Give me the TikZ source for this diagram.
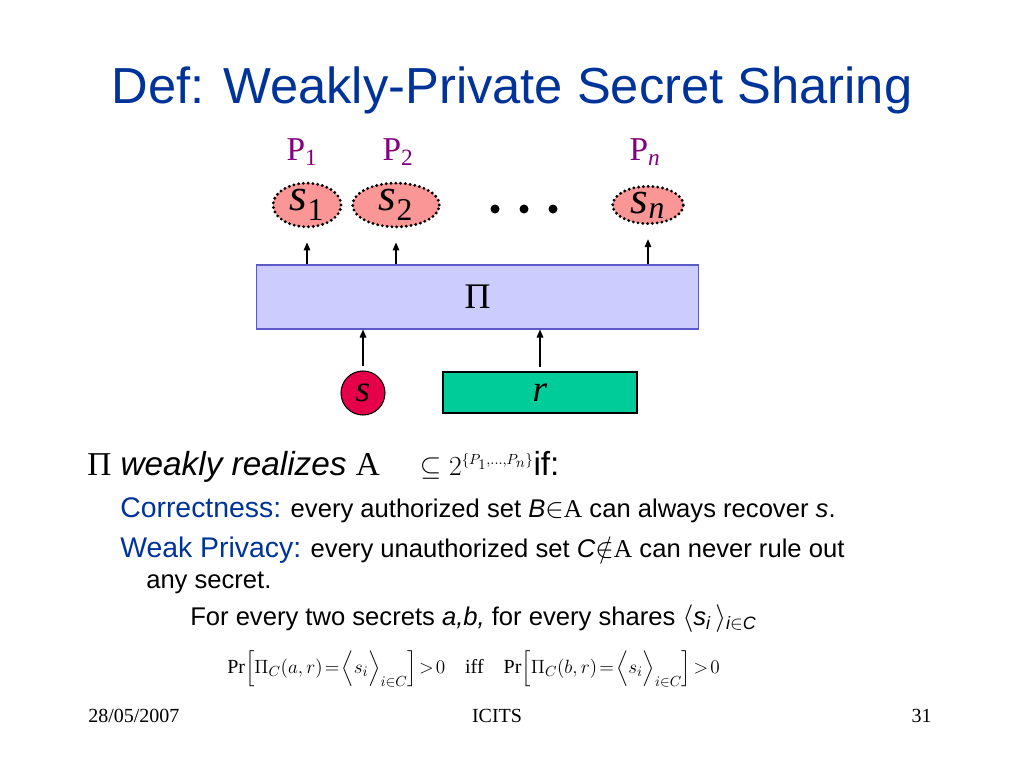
\documentclass[tikz,border=0pt]{standalone}
\usepackage{amsmath, amssymb}
\usepackage{fontspec}
\setmainfont{Liberation Serif}
\setsansfont{Liberation Sans}
\usetikzlibrary{arrows.meta, positioning, shapes.geometric}
\definecolor{titleBlue}{RGB}{0,51,153}
\definecolor{partyPurple}{RGB}{128,0,128}
\definecolor{shareRed}{RGB}{250,150,150}
\definecolor{boxBlue}{RGB}{204,204,255}
\definecolor{boxEdge}{RGB}{90,90,200}
\definecolor{secretRed}{RGB}{230,0,76}
\definecolor{randGreen}{RGB}{0,204,153}

\begin{document}
\begin{tikzpicture}[x=0.75pt, y=-0.75pt,
    share/.style={ellipse, draw=black, fill=shareRed, line width=2.4pt, line cap=round,
        dash pattern=on 0pt off 3.6pt, minimum height=25.5pt, inner sep=0pt,
        font=\fontsize{34}{36}\selectfont\itshape},
    party/.style={text=partyPurple, font=\fontsize{25}{28}\selectfont},
    arr/.style={-{Triangle[length=6pt,width=5pt]}, line width=0.8pt},
    body/.style={anchor=base west, inner sep=0pt, font=\sffamily\fontsize{19.2}{22}\selectfont}]
    \useasboundingbox (0,0) rectangle (1024,768);

    % title
    \node[anchor=base, text=titleBlue, font=\sffamily\fontsize{38}{44}\selectfont] (title) at (512,103) {Def: Weakly-Private Secret Sharing};

    % parties and their shares
    \node[party] (P1) at (302,152) {P$_{\text{1}}$};
    \node[party] (P2) at (398,152) {P$_{\text{2}}$};
    \node[party] (Pn) at (645,152) {P$_{\textit{n}}$};
    \node[share, minimum width=51pt] (s1) at (307,205) {s$_{\text{\upshape 1}}$};
    \node[share, minimum width=65pt] (s2) at (396,205) {s$_{\text{\upshape 2}}$};
    \node[share, minimum width=53pt] (sn) at (648,205) {s$_{\textit{n}}$};
    \foreach \x in {495,524,553} \fill (\x,209) circle (4.5);

    % the scheme
    \node[draw=boxEdge, fill=boxBlue, line width=0.8pt, minimum width=332pt, minimum height=48pt,
        font=\fontsize{27}{30}\selectfont] (Pi) at (477.5,297) {Π};
    \node[circle, draw=black, fill=secretRed, line width=0.8pt, minimum size=33pt, inner sep=0pt,
        font=\fontsize{28}{30}\selectfont\itshape] (s) at (363,393) {s};
    \node[draw=black, fill=randGreen, line width=0.8pt, minimum width=145.5pt, minimum height=30.75pt,
        font=\fontsize{28}{30}\selectfont\itshape] (r) at (540,392.5) {r};

    \foreach \n in {s1,s2,sn}
        \draw[arr, shorten >=10.5pt] (Pi.north -| \n.south) -- (\n.south);
    \draw[arr, shorten <=3.5pt] (s.north) -- (s.north |- Pi.south);
    \draw[arr, shorten <=3.5pt] (r.north) -- (r.north |- Pi.south);

    % definition text
    \node[body, font=\sffamily\fontsize{25}{28}\selectfont] (def) at (87,475)
        {{\rmfamily Π} \textit{weakly realizes} {\rmfamily A}\hspace{30pt}{\fontsize{22}{24}\selectfont$\subseteq 2^{\scriptscriptstyle\{P_1,\dots,P_n\}}$}if:};
    \node[body] (corr) at (120,517)
        {{\color{titleBlue}\fontsize{21.3}{24}\selectfont Correctness:} every authorized set \textit{B}$\in${\rmfamily A} can always recover \textit{s}.};
    \node[body] (priv) at (120,557)
        {{\color{titleBlue}\fontsize{21.3}{24}\selectfont Weak Privacy:} every unauthorized set \textit{C}$\notin${\rmfamily A} can never rule out};
    \node[body] (any) at (146,588) {any secret.};
    \node[body] (every) at (190,625)
        {For every two secrets \textit{a,b,} for every shares $\langle$\textit{s}$_{\textit{i}}\,\rangle_{\textit{i}\in\textit{C}}$};
    \node[body, font=\rmfamily\fontsize{15}{17}\selectfont] (prob) at (227,673)
        {\medmuskip=1mu \thickmuskip=2mu
         Pr$\Big[\Pi_C(a,r)=\Big\langle s_i\Big\rangle_{i\in C}\Big]>0$\quad iff\quad
         Pr$\Big[\Pi_C(b,r)=\Big\langle s_i\Big\rangle_{i\in C}\Big]>0$};

    % footer
    \node[anchor=base west, inner sep=0pt, font=\fontsize{15}{17}\selectfont] (date) at (88,722) {28/05/2007};
    \node[anchor=base, inner sep=0pt, font=\fontsize{15}{17}\selectfont] (conf) at (497,722) {ICITS};
    \node[anchor=base east, inner sep=0pt, font=\fontsize{15}{17}\selectfont] (page) at (932,722) {31};
\end{tikzpicture}
\end{document}
